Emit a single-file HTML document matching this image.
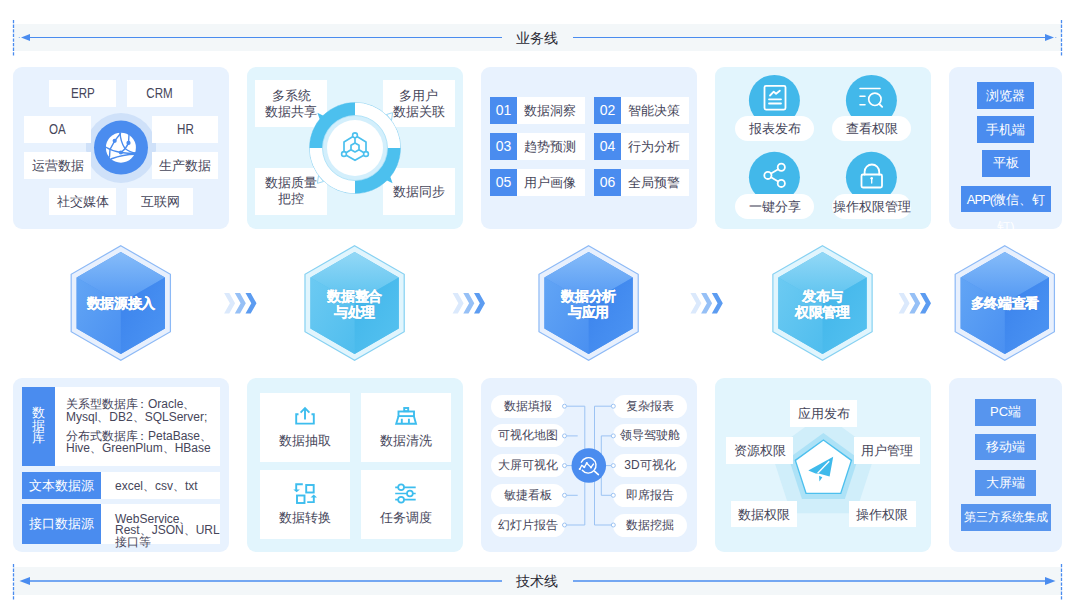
<!DOCTYPE html>
<html><head><meta charset="utf-8">
<style>
*{box-sizing:border-box;margin:0;padding:0}
html,body{width:1078px;height:615px;overflow:hidden;background:#fff}
body{position:relative;font-family:"Liberation Sans",sans-serif;color:#46465a;font-size:13px}
.a{position:absolute}
.card{position:absolute;border-radius:9px}
.cb{background:#e8f2fe}
.cc{background:#e2f5fd}
.t{top:67px;height:162px}
.b{top:378px;height:174px}
.box{position:absolute;background:#fff;display:flex;align-items:center;justify-content:center;text-align:center;line-height:15px;white-space:nowrap}
.blue{background:#4a8cef;color:#fff}
.pill{position:absolute;background:#fff;border-radius:13px;display:flex;align-items:center;justify-content:center;white-space:nowrap}
svg{position:absolute;left:0;top:0;overflow:visible}
.band{position:absolute;left:14px;width:1047px;height:27px;background:#f3f7f9}
.lbl{position:absolute;font-size:14px;color:#2a2a35;width:60px;text-align:center;line-height:16px}
.hext{position:absolute;color:#fff;font-weight:bold;font-size:14px;line-height:16px;text-align:center;text-shadow:0 0 1px rgba(10,50,120,.35);letter-spacing:-0.3px;-webkit-text-stroke:0.3px #fff;white-space:nowrap}
.lat{display:inline-block;font-size:14.5px;transform:scaleX(.8)}
.btn{position:absolute;background:#4a8cef;color:#fff;font-size:13px;display:flex;align-items:center;justify-content:center;white-space:nowrap}
</style></head><body>

<!-- bands -->
<div class="band" style="top:24px"></div>
<div class="band" style="top:567px;height:28px"></div>
<div class="lbl" style="left:507px;top:29.7px">业务线</div>
<div class="lbl" style="left:507px;top:573px">技术线</div>

<!-- top cards -->
<div class="card cb t" style="left:13px;width:216px"></div>
<div class="card cc t" style="left:247px;width:216px"></div>
<div class="card cb t" style="left:481px;width:216px"></div>
<div class="card cc t" style="left:715px;width:216px"></div>
<div class="card cb t" style="left:949px;width:113px"></div>
<!-- bottom cards -->
<div class="card cb b" style="left:13px;width:216px"></div>
<div class="card cc b" style="left:247px;width:216px"></div>
<div class="card cb b" style="left:481px;width:216px"></div>
<div class="card cc b" style="left:715px;width:216px"></div>
<div class="card cb b" style="left:949px;width:113px"></div>

<svg width="1078" height="615" viewBox="0 0 1078 615" id="main">
  <!-- dashed verticals -->
  <g stroke="#4a8cef" stroke-width="1.3" stroke-dasharray="3.3 1.3">
    <line x1="13.5" y1="20" x2="13.5" y2="56"/>
    <line x1="1061.5" y1="20" x2="1061.5" y2="56"/>
    <line x1="13.5" y1="564" x2="13.5" y2="600"/>
    <line x1="1061.5" y1="564" x2="1061.5" y2="600"/>
  </g>
  <g stroke="#4a8cef" stroke-width="1.2">
    <line x1="28" y1="37.5" x2="502" y2="37.5"/>
    <line x1="573" y1="37.5" x2="1047" y2="37.5"/>
    <line x1="28" y1="581" x2="502" y2="581" stroke-width="1.6"/>
    <line x1="573" y1="581" x2="1047" y2="581" stroke-width="1.6"/>
  </g>
  <g fill="#4a8cef">
    <path d="M21 37.5 L30 34 L30 41 Z"/>
    <path d="M1054 37.5 L1045 34 L1045 41 Z"/>
    <path d="M19.5 581 L30 577 L30 585 Z"/>
    <path d="M1055.5 581 L1045 577 L1045 585 Z"/>
    <circle cx="19.3" cy="37.5" r="0.6" opacity=".7"/><circle cx="1055.8" cy="37.5" r="0.6" opacity=".7"/>
  </g>
</svg>


<!-- card1 content -->
<div class="a" style="left:86px;top:143px;width:70px;height:8px;background:#cfe1f9"></div>
<div class="a" style="left:86px;top:112.6px;width:70px;height:70px;border-radius:50%;background:#cfe1f9"></div>
<div class="box" style="left:49px;top:80px;width:67px;height:27px"><span class="lat">ERP</span></div>
<div class="box" style="left:127px;top:80px;width:66px;height:27px"><span class="lat">CRM</span></div>
<div class="box" style="left:24px;top:116px;width:67px;height:27px"><span class="lat">OA</span></div>
<div class="box" style="left:152px;top:116px;width:66px;height:27px"><span class="lat">HR</span></div>
<div class="box" style="left:24px;top:152px;width:67px;height:26.5px">运营数据</div>
<div class="box" style="left:152px;top:152px;width:66px;height:26.5px">生产数据</div>
<div class="box" style="left:49px;top:188px;width:67px;height:26.5px">社交媒体</div>
<div class="box" style="left:127px;top:188px;width:66px;height:26.5px">互联网</div>
<svg width="1078" height="615">
  <circle cx="121" cy="147.6" r="27" fill="#4a8cef"/>
  <g transform="translate(103,130)">
    <circle cx="17.9" cy="17.7" r="15" fill="#fff"/>
    <g fill="none" stroke="#4a8cef" stroke-width="1.4" stroke-linecap="round">
      <path d="M17 2.5 Q17.5 12 22 18.5 Q27 22.5 33 23"/>
      <path d="M26 4.5 L25.5 13 Q23 19 17.9 22.5"/>
      <path d="M2.5 17 Q9 21 17.9 22.5 Q25 23.5 32 23.5"/>
      <path d="M17.5 3.5 L11.7 10.8 L7 19.5 L6.5 27"/>
      <path d="M8.5 28.8 Q20 24.5 32.5 24.3" stroke-width="1.6"/>
    </g>
    <g fill="#4a8cef">
      <circle cx="11.7" cy="10.8" r="2.1"/>
      <circle cx="25.5" cy="12.9" r="2.1"/>
      <circle cx="17.9" cy="22.5" r="2.1"/>
    </g>
  </g>
</svg>


<!-- card2 content -->
<div class="box" style="left:255px;top:80px;width:72px;height:47px;flex-direction:column;line-height:15.5px">多系统<br>数据共享</div>
<div class="box" style="left:382.5px;top:80px;width:72.5px;height:47px;line-height:15.5px">多用户<br>数据关联</div>
<div class="box" style="left:255px;top:168px;width:72px;height:46.5px;line-height:16px">数据质量<br>把控</div>
<div class="box" style="left:382.5px;top:168px;width:72.5px;height:46.5px">数据同步</div>
<svg width="1078" height="615">
  <circle cx="355" cy="148" r="45.5" fill="#fff" stroke="#9cd8f4" stroke-width="1"/>
  <path d="M392.6 112.7 L386.5 114.5 L391.5 120.5 Z" fill="#fff" stroke="#9cd8f4" stroke-width="1"/>
  <path d="M317.4 183.3 L323.5 181.5 L318.5 175.5 Z" fill="#fff" stroke="#9cd8f4" stroke-width="1"/>
  <circle cx="355" cy="148" r="45.2" fill="#fff"/>
  <path d="M309.50 148.00 A45.5 45.5 0 0 1 355.00 102.50 L355.00 115.80 A32.2 32.2 0 0 0 322.80 148.00 Z" fill="#4cc0ee"/>
  <path d="M400.50 148.00 A45.5 45.5 0 0 1 355.00 193.50 L355.00 180.20 A32.2 32.2 0 0 0 387.20 148.00 Z" fill="#4cc0ee"/>
  <path d="M317.4 112.7 L325 116.5 L320.5 121.5 Z" fill="#4cc0ee"/>
  <path d="M392.6 183.3 L385 179.5 L389.5 174.5 Z" fill="#4cc0ee"/>
  <circle cx="355" cy="148" r="32.5" fill="#d3effc" stroke="#a6def6" stroke-width="0.8"/>
  <circle cx="355" cy="148" r="28" fill="#fff"/>
  <g fill="none" stroke="#4cc0ee" stroke-width="1.7" stroke-linejoin="round">
    <path d="M355 135.3 L366 141.9 L366 154 L355 160.3 L344 154 L344 141.9 Z" />
    <path d="M355 143 L359 145.3 L359 149.7 L355 152 L351 149.7 L351 145.3 Z"/>
    <path d="M355 135.3 L355 143 M359 149.7 L366 154 M351 149.7 L344 154"/>
  </g>
  <g fill="#fff" stroke="#4cc0ee" stroke-width="1.6">
    <circle cx="355" cy="135.3" r="2.4"/>
    <circle cx="344" cy="154" r="2.4"/>
    <circle cx="366" cy="154" r="2.4"/>
  </g>
</svg>

<!-- card3 -->
<div class="box blue" style="left:490px;top:97px;width:27px;height:27px;font-size:14px">01</div><div class="box" style="left:517px;top:97px;width:68px;height:27px;justify-content:flex-start;padding-left:7px">数据洞察</div>
<div class="box blue" style="left:594px;top:97px;width:27px;height:27px;font-size:14px">02</div><div class="box" style="left:621px;top:97px;width:68px;height:27px;justify-content:flex-start;padding-left:7px">智能决策</div>
<div class="box blue" style="left:490px;top:133px;width:27px;height:27px;font-size:14px">03</div><div class="box" style="left:517px;top:133px;width:68px;height:27px;justify-content:flex-start;padding-left:7px">趋势预测</div>
<div class="box blue" style="left:594px;top:133px;width:27px;height:27px;font-size:14px">04</div><div class="box" style="left:621px;top:133px;width:68px;height:27px;justify-content:flex-start;padding-left:7px">行为分析</div>
<div class="box blue" style="left:490px;top:169px;width:27px;height:27px;font-size:14px">05</div><div class="box" style="left:517px;top:169px;width:68px;height:27px;justify-content:flex-start;padding-left:7px">用户画像</div>
<div class="box blue" style="left:594px;top:169px;width:27px;height:27px;font-size:14px">06</div><div class="box" style="left:621px;top:169px;width:68px;height:27px;justify-content:flex-start;padding-left:7px">全局预警</div>

<!-- card4 -->
<svg width="1078" height="615">
  <g fill="#42b8ea">
    <circle cx="774.4" cy="100.4" r="25.5"/>
    <circle cx="871.4" cy="100.4" r="25.5"/>
    <circle cx="774.4" cy="177.2" r="25.5"/>
    <circle cx="871.4" cy="177.2" r="25.5"/>
  </g>
  <g fill="none" stroke="#fff" stroke-width="1.8" stroke-linecap="round" stroke-linejoin="round">
    <rect x="764.5" y="85.8" width="21" height="23.8" rx="1.5"/>
    <path d="M770 95.5 L773.7 91.7 L776.1 93.8 L779.8 90.7"/>
    <path d="M769 99.3 H781 M769 103.5 H781"/>
    <path d="M860 88.5 H880 M860 96.2 H865 M860 104.8 H865" stroke-width="1.6"/>
    <circle cx="874.9" cy="99.3" r="6.2" stroke-width="1.6"/>
    <path d="M879.3 104 L882.2 106.8" stroke-width="1.8"/>
    <circle cx="781.3" cy="167.3" r="3.6"/>
    <circle cx="767.9" cy="175.4" r="3.6"/>
    <circle cx="781.3" cy="183.4" r="3.6"/>
    <path d="M778.2 169.2 L771 173.5 M771 177.3 L778.2 181.5"/>
    <rect x="861.5" y="174.5" width="20.5" height="13" rx="1.5"/>
    <path d="M864.6 174.5 V171.8 A7.3 7.3 0 0 1 879.2 171.8 V174.5"/>
    <path d="M871.7 179 V183" stroke-width="1.3"/>
  </g>
  <circle cx="871.7" cy="178.3" r="1.3" fill="#fff"/>
</svg>
<div class="pill" style="left:735px;top:116px;width:79px;height:24.5px;padding-top:1px">报表发布</div>
<div class="pill" style="left:832px;top:116px;width:79px;height:24.5px;padding-top:1px">查看权限</div>
<div class="pill" style="left:735px;top:194px;width:79px;height:24.5px;padding-top:1px">一键分享</div>
<div class="pill" style="left:832px;top:194px;width:79px;height:24.5px;padding-top:1px">操作权限管理</div>

<!-- card5 -->
<div class="btn" style="left:977px;top:82px;width:57px;height:27px">浏览器</div>
<div class="btn" style="left:977px;top:116px;width:57px;height:27px">手机端</div>
<div class="btn" style="left:981.5px;top:150px;width:48px;height:26.5px">平板</div>
<div class="btn" style="left:961px;top:185.5px;width:90px;height:26.5px;align-items:flex-start;line-height:27px;text-align:center"><span><span style="letter-spacing:-1px">APP(</span>微信、钉<br>钉)</span></div>

<!-- hexes -->
<svg width="1078" height="615">
<defs>
 <linearGradient id="bt" x1="0" y1="0" x2="0" y2="1"><stop offset="0" stop-color="#86bcf9"/><stop offset="1" stop-color="#5197f3"/></linearGradient>
 <linearGradient id="bl" x1="0" y1="0" x2="1" y2="1"><stop offset="0" stop-color="#62a5f5"/><stop offset="1" stop-color="#4a90f1"/></linearGradient>
 <linearGradient id="br" x1="0" y1="0" x2="1" y2="1"><stop offset="0" stop-color="#3a82ec"/><stop offset="1" stop-color="#4d95f3"/></linearGradient>
 <linearGradient id="ct" x1="0" y1="0" x2="0" y2="1"><stop offset="0" stop-color="#93d8f6"/><stop offset="1" stop-color="#58c1ef"/></linearGradient>
 <linearGradient id="cl" x1="0" y1="0" x2="1" y2="1"><stop offset="0" stop-color="#6ccaf2"/><stop offset="1" stop-color="#4fbdee"/></linearGradient>
 <linearGradient id="cr" x1="0" y1="0" x2="1" y2="1"><stop offset="0" stop-color="#40b5ea"/><stop offset="1" stop-color="#56c2f0"/></linearGradient>
</defs>
<polygon points="120.80,245.70 170.42,274.35 170.42,331.65 120.80,360.30 71.18,331.65 71.18,274.35" fill="#e8f0fd" stroke="#8cb9f6" stroke-width="1.2"/>
<polygon points="120.80,252.00 164.97,277.50 164.97,328.50 120.80,354.00 76.63,328.50 76.63,277.50" fill="#4f94f1"/>
<polygon points="120.80,252.00 164.97,277.50 120.80,303.00 76.63,277.50" fill="url(#bt)"/>
<polygon points="76.63,277.50 120.80,303.00 120.80,354.00 76.63,328.50" fill="url(#bl)"/>
<polygon points="120.80,303.00 164.97,277.50 164.97,328.50 120.80,354.00" fill="url(#br)"/>
<polygon points="354.60,245.70 404.22,274.35 404.22,331.65 354.60,360.30 304.98,331.65 304.98,274.35" fill="#e1f5fd" stroke="#86d1f2" stroke-width="1.2"/>
<polygon points="354.60,252.00 398.77,277.50 398.77,328.50 354.60,354.00 310.43,328.50 310.43,277.50" fill="#55bfee"/>
<polygon points="354.60,252.00 398.77,277.50 354.60,303.00 310.43,277.50" fill="url(#ct)"/>
<polygon points="310.43,277.50 354.60,303.00 354.60,354.00 310.43,328.50" fill="url(#cl)"/>
<polygon points="354.60,303.00 398.77,277.50 398.77,328.50 354.60,354.00" fill="url(#cr)"/>
<polygon points="588.60,245.70 638.22,274.35 638.22,331.65 588.60,360.30 538.98,331.65 538.98,274.35" fill="#e8f0fd" stroke="#8cb9f6" stroke-width="1.2"/>
<polygon points="588.60,252.00 632.77,277.50 632.77,328.50 588.60,354.00 544.43,328.50 544.43,277.50" fill="#4f94f1"/>
<polygon points="588.60,252.00 632.77,277.50 588.60,303.00 544.43,277.50" fill="url(#bt)"/>
<polygon points="544.43,277.50 588.60,303.00 588.60,354.00 544.43,328.50" fill="url(#bl)"/>
<polygon points="588.60,303.00 632.77,277.50 632.77,328.50 588.60,354.00" fill="url(#br)"/>
<polygon points="822.50,245.70 872.12,274.35 872.12,331.65 822.50,360.30 772.88,331.65 772.88,274.35" fill="#e1f5fd" stroke="#86d1f2" stroke-width="1.2"/>
<polygon points="822.50,252.00 866.67,277.50 866.67,328.50 822.50,354.00 778.33,328.50 778.33,277.50" fill="#55bfee"/>
<polygon points="822.50,252.00 866.67,277.50 822.50,303.00 778.33,277.50" fill="url(#ct)"/>
<polygon points="778.33,277.50 822.50,303.00 822.50,354.00 778.33,328.50" fill="url(#cl)"/>
<polygon points="822.50,303.00 866.67,277.50 866.67,328.50 822.50,354.00" fill="url(#cr)"/>
<polygon points="1004.80,245.70 1054.42,274.35 1054.42,331.65 1004.80,360.30 955.18,331.65 955.18,274.35" fill="#e8f0fd" stroke="#8cb9f6" stroke-width="1.2"/>
<polygon points="1004.80,252.00 1048.97,277.50 1048.97,328.50 1004.80,354.00 960.63,328.50 960.63,277.50" fill="#4f94f1"/>
<polygon points="1004.80,252.00 1048.97,277.50 1004.80,303.00 960.63,277.50" fill="url(#bt)"/>
<polygon points="960.63,277.50 1004.80,303.00 1004.80,354.00 960.63,328.50" fill="url(#bl)"/>
<polygon points="1004.80,303.00 1048.97,277.50 1048.97,328.50 1004.80,354.00" fill="url(#br)"/>
</svg>
<div class="hext" style="left:70.8px;top:295.2px;width:100px">数据源接入</div>
<div class="hext" style="left:304.6px;top:287.8px;width:100px">数据整合<br>与处理</div>
<div class="hext" style="left:538.6px;top:287.8px;width:100px">数据分析<br>与应用</div>
<div class="hext" style="left:772.5px;top:287.8px;width:100px">发布与<br>权限管理</div>
<div class="hext" style="left:954.8px;top:295.2px;width:100px">多终端查看</div>
<svg width="1078" height="615">
<polygon points="224.1,293 229.3,293 235.1,303.3 229.3,313.6 224.1,313.6 229.9,303.3" fill="#dbe9fc"/>
<polygon points="234.8,293 240.0,293 245.8,303.3 240.0,313.6 234.8,313.6 240.6,303.3" fill="#96c0f6"/>
<polygon points="245.5,293 250.7,293 256.5,303.3 250.7,313.6 245.5,313.6 251.3,303.3" fill="#5c9cf1"/>
<polygon points="452.6,293 457.8,293 463.6,303.3 457.8,313.6 452.6,313.6 458.4,303.3" fill="#dbe9fc"/>
<polygon points="463.3,293 468.5,293 474.3,303.3 468.5,313.6 463.3,313.6 469.1,303.3" fill="#96c0f6"/>
<polygon points="474.0,293 479.2,293 485.0,303.3 479.2,313.6 474.0,313.6 479.8,303.3" fill="#5c9cf1"/>
<polygon points="690.4,293 695.6,293 701.4,303.3 695.6,313.6 690.4,313.6 696.2,303.3" fill="#dbe9fc"/>
<polygon points="701.1,293 706.3,293 712.1,303.3 706.3,313.6 701.1,313.6 706.9,303.3" fill="#96c0f6"/>
<polygon points="711.8,293 717.0,293 722.8,303.3 717.0,313.6 711.8,313.6 717.6,303.3" fill="#5c9cf1"/>
<polygon points="898.6,293 903.8,293 909.6,303.3 903.8,313.6 898.6,313.6 904.4,303.3" fill="#dbe9fc"/>
<polygon points="909.3,293 914.5,293 920.3,303.3 914.5,313.6 909.3,313.6 915.1,303.3" fill="#96c0f6"/>
<polygon points="920.0,293 925.2,293 931.0,303.3 925.2,313.6 920.0,313.6 925.8,303.3" fill="#5c9cf1"/>
</svg>


<!-- B1 -->
<div class="box blue" style="left:22px;top:387px;width:33px;height:79px;font-size:13px;line-height:12.6px;padding-bottom:1px">数<br>据<br>库</div>
<div class="a" style="left:55px;top:387px;width:165px;height:79px;background:#fff"></div>
<div class="a" style="left:66px;top:398.3px;font-size:12px;line-height:12.6px;white-space:nowrap">关系型数据库<span style="display:inline-block;width:10px;overflow:visible;text-indent:-2px">：</span>Oracle、<br>Mysql、DB2、SQLServer;</div>
<div class="a" style="left:66px;top:429.5px;font-size:12px;line-height:12.6px;white-space:nowrap">分布式数据库<span style="display:inline-block;width:10px;overflow:visible;text-indent:-2px">：</span>PetaBase、<br>Hive、GreenPlum、HBase</div>
<div class="box blue" style="left:22px;top:472px;width:79px;height:27px;font-size:13px">文本数据源</div>
<div class="box" style="left:101px;top:472px;width:119px;height:27px;justify-content:flex-start;padding-left:14px;padding-top:1px;font-size:12px">excel、csv、txt</div>
<div class="box blue" style="left:22px;top:504px;width:79px;height:40px;font-size:13px;padding-bottom:1.5px">接口数据源</div>
<div class="a" style="left:101px;top:504px;width:119px;height:40px;background:#fff"></div>
<div class="a" style="left:115px;top:513.6px;font-size:12px;line-height:11.8px;white-space:nowrap">WebService、<br>Rest、JSON、URL<br>接口等</div>

<!-- B2 -->
<div class="a" style="left:260px;top:392.6px;width:90px;height:69px;background:#fff"></div>
<div class="a" style="left:361px;top:392.6px;width:90px;height:69px;background:#fff"></div>
<div class="a" style="left:260px;top:470px;width:90px;height:69px;background:#fff"></div>
<div class="a" style="left:361px;top:470px;width:90px;height:69px;background:#fff"></div>
<div class="a" style="left:260px;top:432px;width:90px;text-align:center;font-size:13px;line-height:17px">数据抽取</div>
<div class="a" style="left:361px;top:432px;width:90px;text-align:center;font-size:13px;line-height:17px">数据清洗</div>
<div class="a" style="left:260px;top:509px;width:90px;text-align:center;font-size:13px;line-height:17px">数据转换</div>
<div class="a" style="left:361px;top:509px;width:90px;text-align:center;font-size:13px;line-height:17px">任务调度</div>
<svg width="1078" height="615">
 <g fill="none" stroke="#3dbdee" stroke-width="1.9" stroke-linecap="butt" stroke-linejoin="miter">
  <path d="M298.5 414.2 H296.2 V423.6 H313.8 V414.2 H311.5"/>
  <path d="M305 408.8 V419.5 M300.6 412.6 L305 408.2 L309.4 412.6"/>
  <rect x="404.2" y="408" width="4" height="3.2"/>
  <rect x="398.5" y="411.5" width="15.5" height="4.6"/>
  <path d="M398.5 416.2 L396.2 423.7 H416 L413.9 416.2"/>
  <path d="M401.8 418.8 V423.6 M408.9 418.8 V423.6"/>
  <path d="M302.8 484.3 H296.2 V490"/>
  <rect x="306.2" y="485" width="7.5" height="7.5"/>
  <rect x="297" y="495.5" width="7.5" height="7.5"/>
  <path d="M307.2 502.1 H313.8 V497"/>
  <path d="M395.2 487.3 H415.7 M395.2 493.5 H415.7 M395.2 499.7 H415.7" stroke-width="1.7"/>
 </g>
 <path d="M293.3 489.5 H299.9 L296.6 492.3 Z" fill="#3dbdee"/>
 <path d="M310.5 497.5 H317 L313.8 494.6 Z" fill="#3dbdee"/>
 <g fill="#fff" stroke="#3dbdee" stroke-width="1.7">
  <circle cx="401.1" cy="487.3" r="2.9"/>
  <circle cx="409.9" cy="493.5" r="2.9"/>
  <circle cx="401.1" cy="499.7" r="2.9"/>
 </g>
</svg>

<!-- B3 -->
<div class="pill" style="left:491px;top:394.7px;width:73.6px;height:23px;border-radius:11.5px;font-size:12px">数据填报</div>
<div class="pill" style="left:613.2px;top:394.7px;width:73.6px;height:23px;border-radius:11.5px;font-size:12px">复杂报表</div>
<div class="pill" style="left:491px;top:424.4px;width:73.6px;height:23px;border-radius:11.5px;font-size:12px">可视化地图</div>
<div class="pill" style="left:613.2px;top:424.4px;width:73.6px;height:23px;border-radius:11.5px;font-size:12px">领导驾驶舱</div>
<div class="pill" style="left:491px;top:454.1px;width:73.6px;height:23px;border-radius:11.5px;font-size:12px">大屏可视化</div>
<div class="pill" style="left:613.2px;top:454.1px;width:73.6px;height:23px;border-radius:11.5px;font-size:12px">3D可视化</div>
<div class="pill" style="left:491px;top:483.8px;width:73.6px;height:23px;border-radius:11.5px;font-size:12px">敏捷看板</div>
<div class="pill" style="left:613.2px;top:483.8px;width:73.6px;height:23px;border-radius:11.5px;font-size:12px">即席报告</div>
<div class="pill" style="left:491px;top:513.5px;width:73.6px;height:23px;border-radius:11.5px;font-size:12px">幻灯片报告</div>
<div class="pill" style="left:613.2px;top:513.5px;width:73.6px;height:23px;border-radius:11.5px;font-size:12px">数据挖掘</div>
<svg width="1078" height="615"><g fill="none" stroke="#9cc3f3" stroke-width="1">
<path d="M566.5 406.2 H584.8 V455 M566.5 435.9 H577.7 M566.5 465.6 H572 M566.5 495.3 H577.7 M566.5 525.0 H584.8 V476"/>
<path d="M611.3 406.2 H594.5 V455 M611.3 435.9 H601.3 V495.3 H611.3 M611.3 465.6 H606"/>
<path d="M611.3 525.0 H594.5 V476"/>
</g><g fill="#fff" stroke="#9cc3f3" stroke-width="1">
<circle cx="564.5" cy="406.2" r="2"/><circle cx="613.3" cy="406.2" r="2"/>
<circle cx="564.5" cy="435.9" r="2"/><circle cx="613.3" cy="435.9" r="2"/>
<circle cx="564.5" cy="465.6" r="2"/><circle cx="613.3" cy="465.6" r="2"/>
<circle cx="564.5" cy="495.3" r="2"/><circle cx="613.3" cy="495.3" r="2"/>
<circle cx="564.5" cy="525.0" r="2"/><circle cx="613.3" cy="525.0" r="2"/>
</g>
<circle cx="588.8" cy="465.5" r="17.3" fill="#4a8cef"/>
<g fill="none" stroke="#fff" stroke-width="1.4" stroke-linecap="round" stroke-linejoin="round">
 <path d="M581.3 462.2 A7.7 7.7 0 1 1 582.3 470.2"/>
 <path d="M594.7 471.4 L598.4 474.6" stroke-width="1.6"/>
 <path d="M579.8 469 L581.8 465.3 L584.3 467.1 L586.8 463.2 L591 467.4 L593.5 464" stroke-width="1.3"/>
</g>
<g fill="#fff"><circle cx="579.8" cy="469" r="1.1"/><circle cx="584.3" cy="467.1" r="1.1"/><circle cx="586.8" cy="463.2" r="1.1"/><circle cx="591" cy="467.4" r="1.1"/></g>
</svg>


<!-- B4 -->
<svg width="1078" height="615">
 <polygon points="823.40,413.70 875.71,451.70 855.73,513.20 791.07,513.20 771.09,451.70" fill="#d0eefa"/>
 <polygon points="823.40,433.00 858.11,458.22 844.85,499.03 801.95,499.03 788.69,458.22" fill="#ade2f7"/>
 <polygon points="823.40,440.00 851.46,460.38 840.74,493.37 806.06,493.37 795.34,460.38" fill="#fff" stroke="#4dc0ee" stroke-width="1.4" stroke-linejoin="miter"/>
 <polygon points="833.2,456.7 808.3,470.4 815.6,473.4 819.7,473.7 829.6,476.4" fill="#3fbaeb"/>
 <path d="M829.2 461.3 L817.6 473.2" stroke="#fff" stroke-width="1.3"/>
 <polygon points="819.1,475.8 822.3,477.2 819.4,481.6" fill="#3fbaeb"/>
</svg>
<div class="box" style="left:790px;top:400px;width:67px;height:26.5px">应用发布</div>
<div class="box" style="left:726px;top:437px;width:67px;height:26.6px">资源权限</div>
<div class="box" style="left:854px;top:437px;width:65.7px;height:26.6px">用户管理</div>
<div class="box" style="left:731.3px;top:501.3px;width:65.7px;height:26.2px">数据权限</div>
<div class="box" style="left:849.2px;top:501.3px;width:66.5px;height:26.2px">操作权限</div>

<!-- B5 -->
<div class="btn" style="left:975px;top:399.4px;width:61px;height:26.2px;background:#5795ee">PC端</div>
<div class="btn" style="left:975px;top:434.3px;width:61px;height:26.2px;background:#5795ee">移动端</div>
<div class="btn" style="left:975px;top:469.5px;width:61px;height:26.3px;background:#5795ee">大屏端</div>
<div class="btn" style="left:961.2px;top:504.4px;width:89.6px;height:26.3px;background:#5795ee;font-size:12px">第三方系统集成</div>

</body></html>
